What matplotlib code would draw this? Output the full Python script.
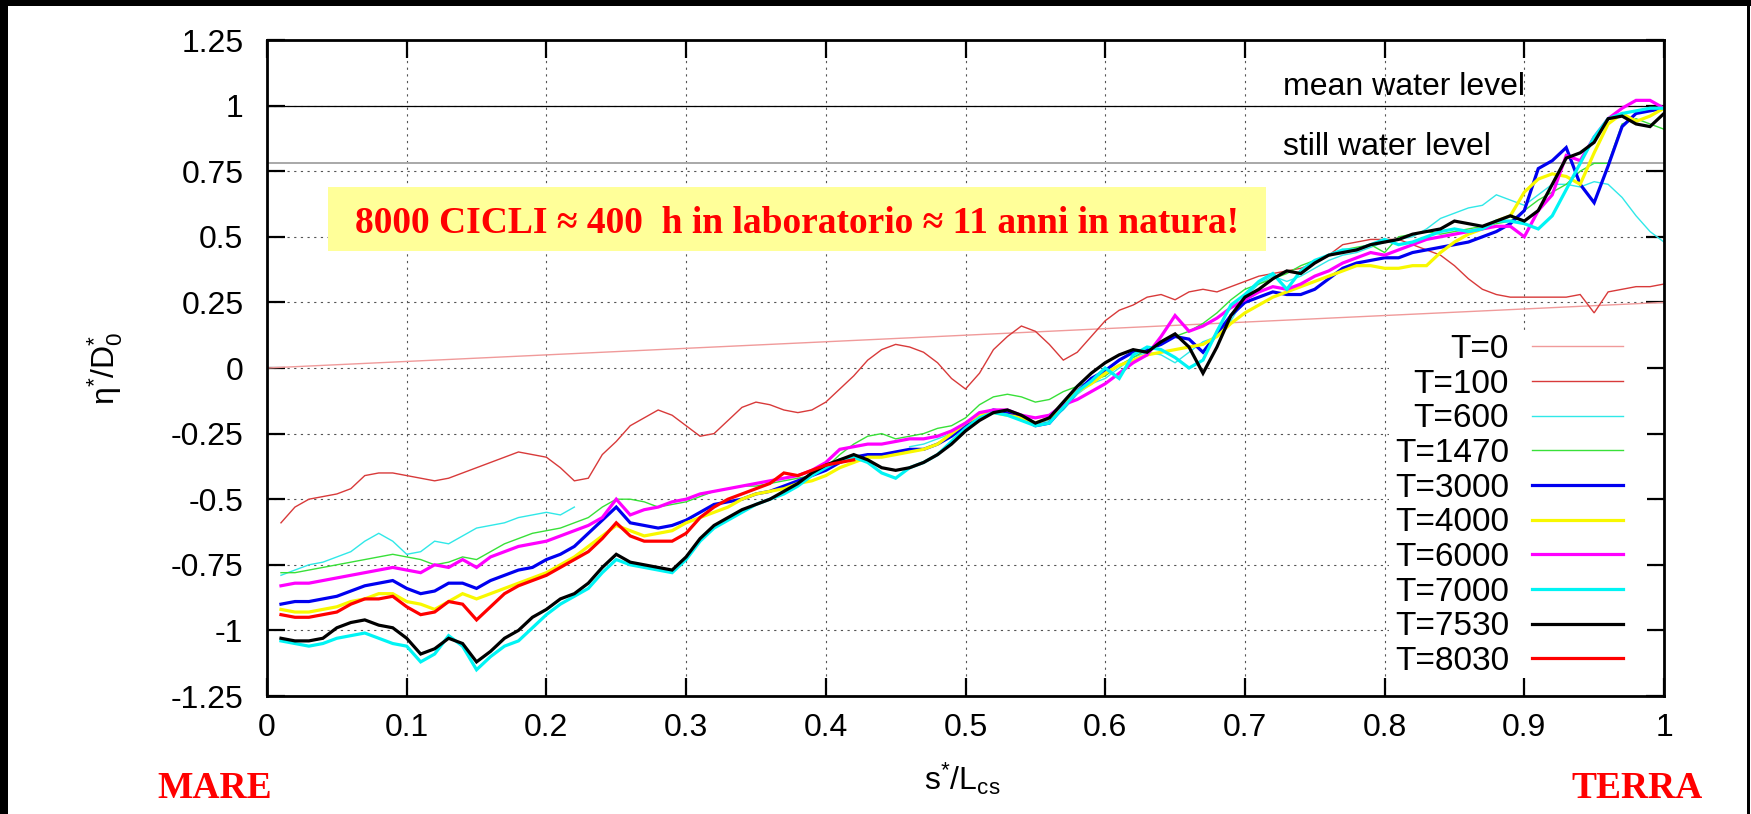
import numpy as np
import matplotlib
matplotlib.use('Agg')
import matplotlib.pyplot as plt
from matplotlib.patches import Rectangle

plt.rcParams['font.family'] = ['Liberation Sans', 'DejaVu Sans']
plt.rcParams['mathtext.fontset'] = 'custom'
plt.rcParams['mathtext.rm'] = 'Liberation Sans'
plt.rcParams['mathtext.it'] = 'Liberation Sans:italic'
plt.rcParams['mathtext.bf'] = 'Liberation Sans:bold'

NA = np.nan

# ---------------- data ----------------
s = [0.01, 0.02, 0.03, 0.04, 0.05, 0.06, 0.07, 0.08, 0.09, 0.10,
     0.11, 0.12, 0.13, 0.14, 0.15, 0.16, 0.17, 0.18, 0.19, 0.20,
     0.21, 0.22, 0.23, 0.24, 0.25, 0.26, 0.27, 0.28, 0.29, 0.30,
     0.31, 0.32, 0.33, 0.34, 0.35, 0.36, 0.37, 0.38, 0.39, 0.40,
     0.41, 0.42, 0.43, 0.44, 0.45, 0.46, 0.47, 0.48, 0.49, 0.50,
     0.51, 0.52, 0.53, 0.54, 0.55, 0.56, 0.57, 0.58, 0.59, 0.60,
     0.61, 0.62, 0.63, 0.64, 0.65, 0.66, 0.67, 0.68, 0.69, 0.70,
     0.71, 0.72, 0.73, 0.74, 0.75, 0.76, 0.77, 0.78, 0.79, 0.80,
     0.81, 0.82, 0.83, 0.84, 0.85, 0.86, 0.87, 0.88, 0.89, 0.90,
     0.91, 0.92, 0.93, 0.94, 0.95, 0.96, 0.97, 0.98, 0.99, 1.00]

s_t0 = [0.0, 1.0]
t0 = [0.0, 0.25]

t100 = [-0.59, -0.53, -0.50, -0.49, -0.48, -0.46, -0.41, -0.40, -0.40, -0.41,
        -0.42, -0.43, -0.42, -0.40, -0.38, -0.36, -0.34, -0.32, -0.33, -0.34,
        -0.38, -0.43, -0.42, -0.33, -0.28, -0.22, -0.19, -0.16, -0.18, -0.22,
        -0.26, -0.25, -0.20, -0.15, -0.13, -0.14, -0.16, -0.17, -0.16, -0.13,
        -0.08, -0.03, 0.03, 0.07, 0.09, 0.08, 0.06, 0.02, -0.04, -0.08,
        -0.02, 0.07, 0.12, 0.16, 0.14, 0.09, 0.03, 0.06, 0.12, 0.18,
        0.22, 0.24, 0.27, 0.28, 0.26, 0.29, 0.30, 0.29, 0.31, 0.33,
        0.35, 0.36, 0.37, 0.38, 0.40, 0.43, 0.47, 0.48, 0.49, 0.49,
        0.49, 0.47, 0.45, 0.43, 0.39, 0.34, 0.30, 0.28, 0.27, 0.27,
        0.27, 0.27, 0.27, 0.28, 0.21, 0.29, 0.30, 0.31, 0.31, 0.32]

t600 = [-0.79, -0.77, -0.75, -0.74, -0.72, -0.70, -0.66, -0.63, -0.66, -0.71,
        -0.70, -0.66, -0.67, -0.64, -0.61, -0.60, -0.59, -0.57, -0.56, -0.55,
        -0.56, -0.53, NA, NA, NA, NA, NA, NA, NA, NA,
        NA, NA, NA, NA, NA, NA, NA, NA, NA, NA,
        NA, NA, NA, NA, NA, -0.30, -0.29, -0.27, -0.25, -0.21,
        -0.18, -0.16, -0.17, -0.19, -0.21, -0.20, -0.16, -0.10, -0.06, -0.04,
        0.00, 0.04, 0.06, 0.05, 0.02, 0.06, 0.10, 0.12, 0.18, 0.27,
        0.32, 0.35, 0.33, 0.35, 0.38, 0.41, 0.43, 0.44, 0.46, 0.48,
        0.49, 0.50, 0.53, 0.57, 0.59, 0.61, 0.62, 0.66, 0.64, 0.62,
        0.66, 0.70, 0.70, 0.69, 0.71, 0.70, 0.65, 0.58, 0.52, 0.48]

t1470 = [-0.78, -0.78, -0.77, -0.76, -0.75, -0.74, -0.73, -0.72, -0.71, -0.72,
         -0.73, -0.75, -0.74, -0.72, -0.73, -0.70, -0.67, -0.65, -0.63, -0.62,
         -0.61, -0.59, -0.57, -0.53, -0.50, -0.50, -0.51, -0.53, -0.52, -0.51,
         -0.49, -0.47, -0.46, -0.45, -0.45, -0.44, -0.43, -0.42, -0.41, -0.38,
         -0.33, -0.29, -0.26, -0.25, -0.27, -0.26, -0.25, -0.23, -0.22, -0.19,
         -0.14, -0.11, -0.10, -0.11, -0.13, -0.12, -0.09, -0.07, -0.05, -0.03,
         0.01, 0.04, 0.07, 0.10, 0.12, 0.14, 0.17, 0.21, 0.26, 0.30,
         0.32, 0.34, 0.36, 0.39, 0.41, 0.43, 0.45, 0.46, 0.47, 0.44,
         0.50, 0.51, 0.52, 0.51, 0.52, 0.53, 0.54, 0.55, 0.56, 0.60,
         0.64, 0.67, 0.70, 0.75, 0.78, 0.78, 0.93, 0.95, 0.93, 0.91]

t3000 = [-0.90, -0.89, -0.89, -0.88, -0.87, -0.85, -0.83, -0.82, -0.81, -0.84,
         -0.86, -0.85, -0.82, -0.82, -0.84, -0.81, -0.79, -0.77, -0.76, -0.73,
         -0.71, -0.68, -0.63, -0.58, -0.53, -0.59, -0.60, -0.61, -0.60, -0.58,
         -0.55, -0.52, -0.51, -0.50, -0.48, -0.47, -0.45, -0.43, -0.41, -0.39,
         -0.36, -0.34, -0.33, -0.33, -0.32, -0.31, -0.31, -0.29, -0.26, -0.22,
         -0.18, -0.16, -0.17, -0.19, -0.22, -0.21, -0.15, -0.09, -0.04, -0.01,
         0.03, 0.06, 0.07, 0.09, 0.12, 0.11, 0.06, 0.13, 0.20, 0.25,
         0.27, 0.29, 0.28, 0.28, 0.30, 0.34, 0.38, 0.40, 0.41, 0.42,
         0.42, 0.44, 0.45, 0.46, 0.47, 0.48, 0.50, 0.52, 0.55, 0.60,
         0.76, 0.79, 0.84, 0.70, 0.63, 0.77, 0.92, 0.97, 0.98, 0.99]

t4000 = [-0.92, -0.93, -0.93, -0.92, -0.91, -0.89, -0.88, -0.86, -0.86, -0.89,
         -0.90, -0.92, -0.89, -0.86, -0.88, -0.86, -0.84, -0.82, -0.80, -0.78,
         -0.75, -0.72, -0.68, -0.64, -0.60, -0.62, -0.64, -0.63, -0.62, -0.59,
         -0.57, -0.55, -0.53, -0.50, -0.48, -0.47, -0.46, -0.44, -0.43, -0.41,
         -0.38, -0.36, -0.34, -0.34, -0.33, -0.32, -0.31, -0.29, -0.25, -0.21,
         -0.18, -0.17, -0.18, -0.19, -0.21, -0.19, -0.14, -0.09, -0.06, -0.02,
         0.01, 0.03, 0.05, 0.06, 0.07, 0.08, 0.09, 0.12, 0.17, 0.21,
         0.24, 0.27, 0.29, 0.31, 0.33, 0.35, 0.37, 0.39, 0.39, 0.38,
         0.38, 0.39, 0.39, 0.44, 0.48, 0.51, 0.53, 0.56, 0.58, 0.67,
         0.72, 0.74, 0.73, 0.70, 0.82, 0.93, 0.97, 0.94, 0.96, 0.99]

t6000 = [-0.83, -0.82, -0.82, -0.81, -0.80, -0.79, -0.78, -0.77, -0.76, -0.77,
         -0.78, -0.75, -0.76, -0.73, -0.76, -0.72, -0.70, -0.68, -0.67, -0.66,
         -0.64, -0.62, -0.60, -0.57, -0.50, -0.56, -0.54, -0.53, -0.51, -0.50,
         -0.48, -0.47, -0.46, -0.45, -0.44, -0.43, -0.42, -0.41, -0.39, -0.36,
         -0.31, -0.30, -0.29, -0.29, -0.28, -0.27, -0.27, -0.26, -0.24, -0.21,
         -0.17, -0.16, -0.16, -0.18, -0.19, -0.18, -0.14, -0.12, -0.09, -0.06,
         -0.02, 0.02, 0.05, 0.12, 0.20, 0.14, 0.16, 0.19, 0.23, 0.26,
         0.29, 0.31, 0.30, 0.32, 0.35, 0.37, 0.40, 0.42, 0.44, 0.43,
         0.45, 0.47, 0.49, 0.50, 0.51, 0.52, 0.53, 0.54, 0.54, 0.50,
         0.60, 0.66, 0.81, 0.79, 0.88, 0.95, 0.99, 1.02, 1.02, 0.99]

t7000 = [-1.04, -1.05, -1.06, -1.05, -1.03, -1.02, -1.01, -1.03, -1.05, -1.06,
         -1.12, -1.09, -1.02, -1.06, -1.15, -1.10, -1.06, -1.04, -0.99, -0.94,
         -0.90, -0.87, -0.84, -0.78, -0.73, -0.75, -0.76, -0.77, -0.78, -0.73,
         -0.66, -0.61, -0.58, -0.55, -0.52, -0.50, -0.48, -0.45, -0.41, -0.38,
         -0.35, -0.34, -0.36, -0.40, -0.42, -0.38, -0.36, -0.33, -0.28, -0.23,
         -0.19, -0.17, -0.18, -0.20, -0.22, -0.21, -0.15, -0.09, -0.05, 0.00,
         -0.04, 0.05, 0.08, 0.07, 0.04, 0.00, 0.03, 0.14, 0.24, 0.28,
         0.33, 0.36, 0.30, 0.37, 0.41, 0.43, 0.45, 0.45, 0.47, 0.49,
         0.47, 0.48, 0.50, 0.52, 0.53, 0.52, 0.53, 0.56, 0.56, 0.55,
         0.53, 0.58, 0.68, 0.78, 0.88, 0.95, 0.97, 0.98, 0.99, 0.99]

t7530 = [-1.03, -1.04, -1.04, -1.03, -0.99, -0.97, -0.96, -0.98, -0.99, -1.03,
         -1.09, -1.07, -1.03, -1.05, -1.12, -1.08, -1.03, -1.00, -0.95, -0.92,
         -0.88, -0.86, -0.82, -0.76, -0.71, -0.74, -0.75, -0.76, -0.77, -0.72,
         -0.65, -0.60, -0.57, -0.54, -0.52, -0.50, -0.47, -0.44, -0.40, -0.37,
         -0.35, -0.33, -0.35, -0.38, -0.39, -0.38, -0.36, -0.33, -0.29, -0.24,
         -0.20, -0.17, -0.16, -0.18, -0.21, -0.19, -0.13, -0.07, -0.02, 0.02,
         0.05, 0.07, 0.06, 0.10, 0.13, 0.08, -0.02, 0.08, 0.20, 0.27,
         0.30, 0.34, 0.37, 0.36, 0.40, 0.43, 0.44, 0.45, 0.47, 0.48,
         0.49, 0.51, 0.52, 0.53, 0.56, 0.55, 0.54, 0.56, 0.58, 0.56,
         0.60, 0.70, 0.80, 0.82, 0.86, 0.95, 0.96, 0.93, 0.92, 0.97]

t8030 = [-0.94, -0.95, -0.95, -0.94, -0.93, -0.90, -0.88, -0.88, -0.87, -0.91,
         -0.94, -0.93, -0.89, -0.90, -0.96, -0.91, -0.86, -0.83, -0.81, -0.79,
         -0.76, -0.73, -0.70, -0.65, -0.59, -0.64, -0.66, -0.66, -0.66, -0.63,
         -0.57, -0.53, -0.50, -0.48, -0.46, -0.44, -0.40, -0.41, -0.39, -0.37,
         -0.36, -0.35]

labels = ['T=0', 'T=100', 'T=600', 'T=1470', 'T=3000', 'T=4000',
          'T=6000', 'T=7000', 'T=7530', 'T=8030']
colors = ['#f09a9a', '#d83a3a', '#30e8e8', '#38e038', '#0000f0', '#f8f800',
          '#ff00ff', '#00f4f4', '#000000', '#ff0000']
widths = [1.0, 1.0, 1.0, 1.0, 2.3, 2.3, 2.3, 2.3, 2.3, 2.3]

mean_level = 1.0
still_level = 0.782

xticks = [0, 0.1, 0.2, 0.3, 0.4, 0.5, 0.6, 0.7, 0.8, 0.9, 1.0]
xticklabels = ['0', '0.1', '0.2', '0.3', '0.4', '0.5', '0.6', '0.7', '0.8', '0.9', '1']
yticks = [1.25, 1.0, 0.75, 0.5, 0.25, 0.0, -0.25, -0.5, -0.75, -1.0, -1.25]
yticklabels = ['1.25', '1', '0.75', '0.5', '0.25', '0', '-0.25', '-0.5', '-0.75', '-1', '-1.25']

# ---------------- figure ----------------
W, H = 1751, 814
fig = plt.figure(figsize=(W / 100, H / 100), dpi=100)
fig.patch.set_facecolor('white')
ax = fig.add_axes([267 / W, (H - 696) / H, 1397 / W, 656 / H])

series = [(s_t0, t0), (s, t100), (s, t600), (s, t1470), (s, t3000), (s, t4000),
          (s, t6000), (s, t7000), (s, t7530), (s[:len(t8030)], t8030)]
for (xs, ys), lab, c, lw in zip(series, labels, colors, widths):
    ax.plot(xs, ys, color=c, lw=lw, label=lab, zorder=2, solid_joinstyle='miter')

ax.axhline(mean_level, color='black', lw=0.9, zorder=1.5)
ax.axhline(still_level, color='#a8a8a8', lw=1.4, zorder=1.5)
ax.text(0.727, 1.04, 'mean water level', fontsize=23, ha='left', va='baseline')
ax.text(0.727, 0.812, 'still water level', fontsize=23, ha='left', va='baseline')

ax.set_xlim(0, 1)
ax.set_ylim(-1.25, 1.25)
ax.set_xticks(xticks)
ax.set_xticklabels(xticklabels)
ax.set_yticks(yticks)
ax.set_yticklabels(yticklabels)
ax.set_axisbelow(True)
ax.grid(True, linestyle=(0, (2, 4)), color='#555555', lw=0.8)
ax.tick_params(direction='in', length=13, width=1.6, top=True, right=True, labelsize=23)
ax.tick_params(axis='x', pad=12)
ax.tick_params(axis='y', pad=17)
for sp in ax.spines.values():
    sp.set_linewidth(2.0)

# white key background covering grid
ax.add_patch(Rectangle((0.803, -1.178), 0.988 - 0.803, 0.133 + 1.178,
                       facecolor='white', edgecolor='none', zorder=1))

leg = ax.legend(loc='upper right', bbox_to_anchor=(1623 / W, (H - 334) / H),
                bbox_transform=fig.transFigure, fontsize=24, markerfirst=False,
                frameon=False, handlelength=2.73, handletextpad=0.69,
                labelspacing=0.11, borderpad=0, borderaxespad=0)
leg.set_zorder(3)

ax.set_xlabel(r'$\mathrm{s}^{*}/\mathrm{L}_{\mathrm{cs}}$', fontsize=23)
ax.xaxis.set_label_coords(0.498, -0.098)
ax.set_ylabel(r'$\mathrm{η}^{*}/\mathrm{D}_{0}^{*}$', fontsize=23, va='center')
ax.yaxis.set_label_coords(-0.116, 0.5)

# yellow banner
fig.add_artist(Rectangle((328 / W, 1 - 251 / H), 938 / W, 64 / H,
                         transform=fig.transFigure, facecolor='#ffff99',
                         edgecolor='none', zorder=1))
fig.text(797 / W, 1 - 233 / H, '8000 CICLI ≈ 400  h in laboratorio ≈ 11 anni in natura!',
         fontsize=27, fontweight='bold', color='#ff0000', ha='center', va='baseline',
         family=['Liberation Serif', 'DejaVu Serif'], zorder=3)

fig.text(215 / W, 1 - 798 / H, 'MARE', fontsize=27, fontweight='bold', color='#ff0000',
         ha='center', va='baseline', family=['Liberation Serif', 'DejaVu Serif'])
fig.text(1703 / W, 1 - 798 / H, 'TERRA', fontsize=27, fontweight='bold', color='#ff0000',
         ha='right', va='baseline', family=['Liberation Serif', 'DejaVu Serif'])

# black frame strips of the slide
fig.add_artist(Rectangle((0, 0), 8 / W, 1, transform=fig.transFigure,
                         facecolor='black', edgecolor='none', zorder=5))
fig.add_artist(Rectangle((0, 1 - 6 / H), 1, 6 / H, transform=fig.transFigure,
                         facecolor='black', edgecolor='none', zorder=5))
fig.add_artist(Rectangle((1747 / W, 0), 3 / W, 1, transform=fig.transFigure,
                         facecolor='black', edgecolor='none', zorder=5))

fig.savefig('out.png', dpi=100, facecolor='white')
